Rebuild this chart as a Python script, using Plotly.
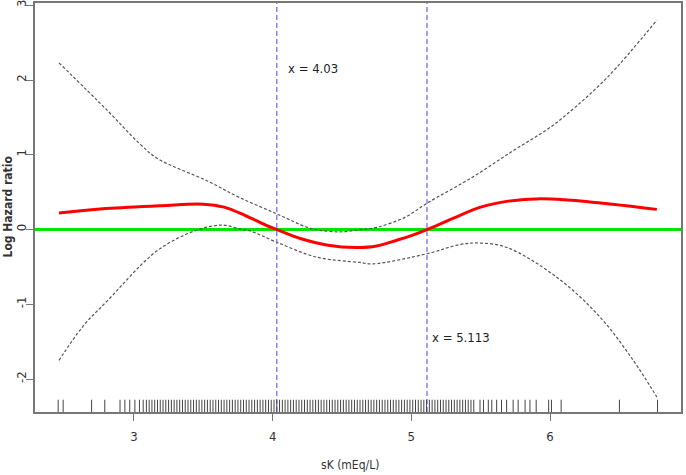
import plotly.graph_objects as go

# ---- data ----
fit_x = [2.46, 2.8, 3.2, 3.5, 3.65, 3.8, 3.95, 4.03, 4.2, 4.4, 4.6, 4.75, 4.9, 5.0, 5.113, 5.3, 5.5, 5.7, 5.9, 6.1, 6.4, 6.77]
fit_y = [0.22, 0.28, 0.32, 0.34, 0.30, 0.19, 0.06, 0.0, -0.12, -0.21, -0.24, -0.22, -0.14, -0.08, 0.0, 0.15, 0.30, 0.38, 0.41, 0.40, 0.35, 0.27]

upper_x = [2.46, 2.81, 3.04, 3.17, 3.53, 3.76, 4.03, 4.25, 4.34, 4.49, 4.63, 4.75, 4.95, 5.12, 5.44, 5.73, 5.98, 6.12, 6.41, 6.77]
upper_y = [2.23, 1.59, 1.15, 0.95, 0.65, 0.43, 0.21, 0.03, -0.01, -0.03, 0.0, 0.03, 0.16, 0.36, 0.70, 1.05, 1.34, 1.54, 2.03, 2.80]

lower_x = [2.46, 2.63, 2.81, 3.17, 3.45, 3.64, 3.76, 3.84, 4.03, 4.32, 4.63, 4.72, 5.12, 5.35, 5.49, 5.69, 6.05, 6.36, 6.6, 6.77]
lower_y = [-1.75, -1.30, -0.95, -0.28, -0.01, 0.06, 0.01, -0.02, -0.17, -0.37, -0.44, -0.46, -0.32, -0.20, -0.18, -0.24, -0.64, -1.17, -1.75, -2.24]

cut_points = [4.03, 5.113]
cut_labels = ["x = 4.03", "x = 5.113"]
label_x = [4.29, 5.36]
label_y = [2.15, -1.44]

rug_x = [2.454, 2.49, 2.695, 2.79, 2.90, 2.935, 2.97, 3.007, 3.04, 3.067,
         3.09, 3.11, 3.13, 3.15, 3.17, 3.19, 3.21, 3.23, 3.25, 3.27, 3.29, 3.31,
         3.33, 3.35, 3.37, 3.39, 3.41, 3.43, 3.45, 3.47, 3.49, 3.51, 3.53, 3.55,
         3.57, 3.59, 3.61, 3.63, 3.65, 3.67, 3.69, 3.71, 3.73, 3.75, 3.77, 3.79,
         3.81, 3.83, 3.85, 3.87, 3.89, 3.91, 3.93, 3.95, 3.97, 3.99, 4.01, 4.03,
         4.05, 4.07, 4.09, 4.11, 4.13, 4.15, 4.17, 4.19, 4.21, 4.23, 4.25, 4.27,
         4.29, 4.31, 4.33, 4.35, 4.37, 4.39, 4.41, 4.43, 4.45, 4.47, 4.49, 4.51,
         4.53, 4.55, 4.57, 4.59, 4.61, 4.63, 4.65, 4.67, 4.69, 4.71, 4.73, 4.75,
         4.77, 4.79, 4.81, 4.83, 4.85, 4.87, 4.89, 4.91, 4.93, 4.95, 4.97, 4.99,
         5.01, 5.03, 5.05, 5.07, 5.09, 5.11, 5.13, 5.15, 5.17, 5.19, 5.21, 5.23,
         5.25, 5.27, 5.29, 5.31, 5.33, 5.35, 5.37, 5.39, 5.41, 5.43, 5.45,
         5.495, 5.52, 5.555, 5.58, 5.615, 5.65, 5.687, 5.734, 5.77, 5.82, 5.855,
         5.90, 5.99, 6.01, 6.08, 6.50, 6.775]

x_ticks = [3, 4, 5, 6]
x_tick_labels = ["3", "4", "5", "6"]
y_ticks = [-2, -1, 0, 1, 2, 3]
y_tick_labels = ["-2", "-1", "0", "1", "2", "3"]

x_title = "sK (mEq/L)"
y_title = "<b>Log Hazard ratio</b>"

FONT = "Liberation Sans Narrow, DejaVu Sans Condensed, Liberation Sans, Arial, sans-serif"

fig = go.Figure()

# reference line at 0
fig.add_shape(type="line", xref="x domain", x0=0, x1=1, yref="y", y0=0, y1=0,
              line=dict(color="#00e600", width=3), layer="below")

fig.add_trace(go.Scatter(x=upper_x, y=upper_y, mode="lines", line_shape="spline",
                         line=dict(color="#555555", width=1.2, dash="3px,2px"), showlegend=False))
fig.add_trace(go.Scatter(x=lower_x, y=lower_y, mode="lines", line_shape="spline",
                         line=dict(color="#555555", width=1.2, dash="3px,2px"), showlegend=False))
fig.add_trace(go.Scatter(x=fit_x, y=fit_y, mode="lines", line_shape="spline",
                         line=dict(color="#ff0000", width=3), showlegend=False))

for cx in cut_points:
    fig.add_shape(type="line", xref="x", x0=cx, x1=cx, yref="y domain", y0=0, y1=1,
                  line=dict(color="#6f6fff", width=1.3, dash="5px,3px"))

for rx in rug_x:
    fig.add_shape(type="line", xref="x", x0=rx, x1=rx, yref="y domain", y0=0, y1=0.03,
                  line=dict(color="#444444", width=1))

for t, lx, ly in zip(cut_labels, label_x, label_y):
    fig.add_annotation(x=lx, y=ly, text=t, showarrow=False,
                       font=dict(family=FONT, size=13, color="#222222"))

# axis titles as annotations for exact placement
fig.add_annotation(xref="paper", yref="paper", x=0, y=0.5, xshift=-28, text=y_title,
                   textangle=-90, showarrow=False, xanchor="center", yanchor="middle",
                   font=dict(family=FONT, size=12, color="#333333"))
fig.add_annotation(xref="paper", yref="paper", x=0.5, y=0, xshift=-8, yshift=-53, text=x_title,
                   showarrow=False, xanchor="center", yanchor="middle",
                   font=dict(family=FONT, size=12, color="#333333"))

axis_common = dict(showgrid=False, zeroline=False, showline=True, linecolor="#777777",
                   linewidth=1.5, mirror=True, ticks="outside", ticklen=7, automargin=False,
                   ticklabeloverflow="allow",
                   tickcolor="#777777", tickfont=dict(family=FONT, size=13, color="#333333"))

fig.update_xaxes(range=[2.287, 6.944], tickvals=x_ticks, ticktext=x_tick_labels,
                 ticklabelstandoff=5, **axis_common)
fig.update_yaxes(range=[-2.44, 3.03], tickvals=y_ticks, ticktext=y_tick_labels, tickangle=-90,
                 ticklabelstandoff=-5, **axis_common)

fig.update_layout(width=686, height=475, margin=dict(l=35, r=5, t=3, b=63),
                  plot_bgcolor="white", paper_bgcolor="white")

fig.write_html("out.html", config={"displayModeBar": False},
               post_script="document.body.style.margin='0';document.body.style.overflow='hidden';")
